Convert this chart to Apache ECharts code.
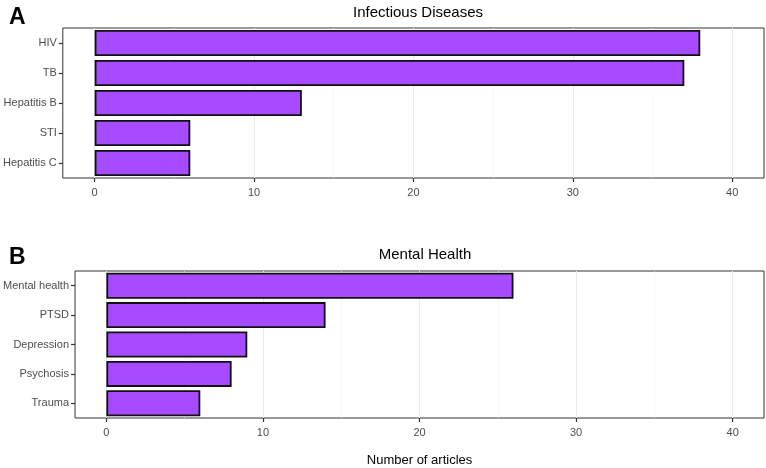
<!DOCTYPE html>
<html>
<head>
<meta charset="utf-8">
<script src="https://cdn.jsdelivr.net/npm/echarts@6/dist/echarts.min.js"></script>
<style>
  html, body { margin: 0; padding: 0; background: #fff; }
  #chart { width: 766px; height: 468px; }
</style>
</head>
<body>
<div id="chart"></div>
<script>
// panel A
const infectiousLabels = ['HIV', 'TB', 'Hepatitis B', 'STI', 'Hepatitis C'];
const infectiousCounts = [38, 37, 13, 6, 6];
// panel B
const mentalLabels = ['Mental health', 'PTSD', 'Depression', 'Psychosis', 'Trauma'];
const mentalCounts = [26, 14, 9, 8, 6];

const xTicks = [0, 10, 20, 30, 40];
const minorTicks = [5, 15, 25, 35];

const FONT = 'Liberation Sans, Arial, sans-serif';
const BAR = '#a64bff';

const chart = echarts.init(document.getElementById('chart'), null, { renderer: 'canvas' });

// background grid lines as markLines, through the x scale
function gridLines() {
  return {
    silent: true,
    symbol: 'none',
    label: { show: false },
    z: 0,
    data: xTicks.map((v) => ({ xAxis: v, lineStyle: { color: '#ebebeb', width: 1, type: 'solid' } }))
      .concat(minorTicks.map((v) => ({ xAxis: v, lineStyle: { color: '#f3f3f3', width: 0.6, type: 'solid' } })))
  };
}

function xAxisFor(gridIndex, extra) {
  return Object.assign({
    type: 'value',
    gridIndex: gridIndex,
    min: -2,
    max: 42,
    splitLine: { show: false },
    axisLine: { show: false, onZero: false },
    axisTick: { show: true, customValues: xTicks, length: 4, lineStyle: { color: '#333', width: 1.2 } },
    axisLabel: { customValues: xTicks, color: '#4d4d4d', fontSize: 11, fontFamily: FONT, margin: 9 }
  }, extra || {});
}

function yAxisFor(gridIndex, labels) {
  return {
    type: 'category',
    gridIndex: gridIndex,
    data: labels,
    inverse: true,
    axisLine: { show: false, onZero: false },
    axisTick: { show: true, alignWithLabel: true, length: 4, lineStyle: { color: '#333', width: 1.2 } },
    axisLabel: { color: '#4d4d4d', fontSize: 11, fontFamily: FONT, margin: 6 },
    splitLine: { show: false }
  };
}

function barSeries(idx, values) {
  return {
    type: 'bar',
    xAxisIndex: idx,
    yAxisIndex: idx,
    data: values,
    barWidth: 26,
    itemStyle: { color: BAR, borderColor: '#111', borderWidth: 1.8 },
    markLine: gridLines(),
    z: 2
  };
}

chart.setOption({
  animation: false,
  backgroundColor: '#fff',
  title: [
    { text: 'A', left: 4, top: 1, textStyle: { fontSize: 23, fontWeight: 'bold', color: '#000', fontFamily: FONT } },
    { text: 'Infectious Diseases', left: 413, top: 0, textAlign: 'center', textStyle: { fontSize: 15, fontWeight: 'normal', color: '#000', fontFamily: FONT } },
    { text: 'B', left: 4, top: 241, textStyle: { fontSize: 23, fontWeight: 'bold', color: '#000', fontFamily: FONT } },
    { text: 'Mental Health', left: 420, top: 242, textAlign: 'center', textStyle: { fontSize: 15, fontWeight: 'normal', color: '#000', fontFamily: FONT } }
  ],
  grid: [
    { left: 62, top: 28, right: 2, height: 150, show: true, borderColor: '#333', borderWidth: 1, backgroundColor: '#fff' },
    { left: 74, top: 271, right: 2, height: 150, show: true, borderColor: '#333', borderWidth: 1, backgroundColor: '#fff' }
  ],
  xAxis: [
    xAxisFor(0),
    xAxisFor(1, {
      name: 'Number of articles',
      nameLocation: 'middle',
      nameGap: 36,
      nameTextStyle: { color: '#000', fontSize: 13, fontFamily: FONT }
    })
  ],
  yAxis: [yAxisFor(0, infectiousLabels), yAxisFor(1, mentalLabels)],
  series: [barSeries(0, infectiousCounts), barSeries(1, mentalCounts)]
});
</script>
</body>
</html>
